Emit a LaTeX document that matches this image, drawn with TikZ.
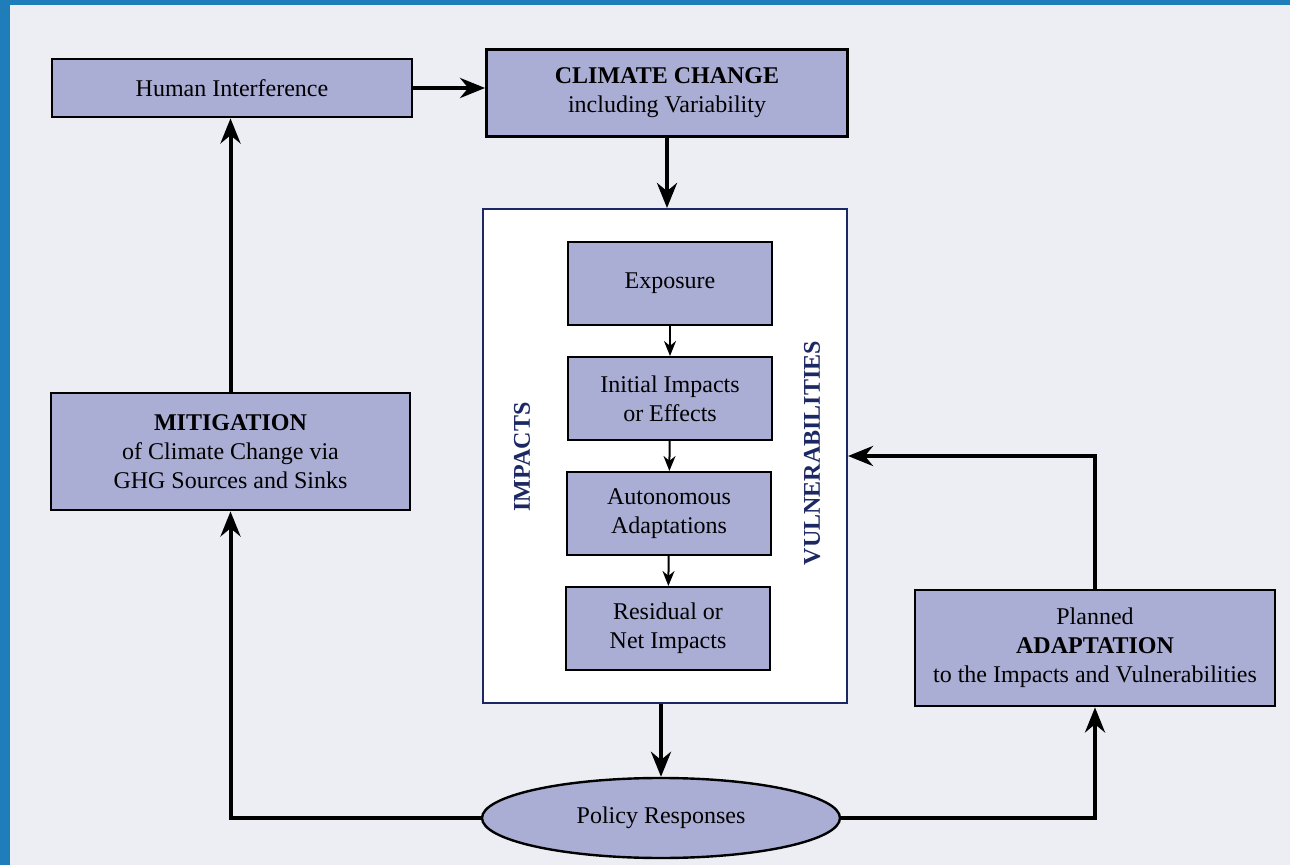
\documentclass[tikz,border=0pt]{standalone}
\usepackage{fontspec}
\setmainfont{Liberation Serif}
\usepackage{tikz}
\usetikzlibrary{shapes,arrows.meta}
\usetikzlibrary{positioning}
\usetikzlibrary{shapes.geometric}

\definecolor{boxfill}{RGB}{170,173,212}
\definecolor{pagegrey}{RGB}{236,238,243}
\definecolor{frameblue}{RGB}{31,125,186}
\definecolor{navy}{RGB}{28,40,100}

\begin{document}
\begin{tikzpicture}[x=0.5pt,y=-0.5pt]
\tikzstyle{box}=[draw=black,line width=1.4pt,fill=boxfill,align=center,inner sep=0pt,font=\fontsize{12}{14.5}\selectfont];
\tikzstyle{stackbox}=[box,line width=1pt,minimum width=102pt,minimum height=41.5pt];
\tikzstyle{bigarrow}=[line width=2pt,draw=black,-{Stealth[length=12.5pt,width=10pt]}];
\tikzstyle{smallarrow}=[line width=1pt,draw=black,-{Stealth[length=7.5pt,width=6pt]}];
\tikzstyle{sidelabel}=[rotate=90,text=navy,font=\fontsize{12}{14}\selectfont\bfseries];

% page and frame
\useasboundingbox (0,0) rectangle (1290,865);
\fill[pagegrey] (0,0) rectangle (1290,865);
\fill[frameblue] (0,0) rectangle (10,865);
\fill[frameblue] (0,0) rectangle (1290,5);

\node[box,minimum width=180pt,minimum height=29pt] (hum) at (232,88) {Human Interference};
\node[box,minimum width=180.5pt,minimum height=43.5pt] (clim) at (667,93) {\textbf{CLIMATE CHANGE}\\including Variability};

\node[draw=navy,line width=1pt,fill=white,minimum width=182pt,minimum height=247pt] (vuln) at (665,456) {};
\node[sidelabel] (implabel) at (522,457) {IMPACTS};
\node[sidelabel] (vulnlabel) at (812,453) {VULNERABILITIES};

\node[stackbox] (expo) at (670,283.5) {Exposure};
\node[stackbox] (init) at (670,398.5) {Initial Impacts\\or Effects};
\node[stackbox] (auto) at (669,513.5) {Autonomous\\Adaptations};
\node[stackbox] (resid) at (668,628.5) {Residual or\\Net Impacts};

\node[box,minimum width=179.5pt,minimum height=58.5pt] (mitig) at (230.5,451.5) {\textbf{MITIGATION}\\of Climate Change via\\GHG Sources and Sinks};
\node[box,minimum width=180pt,minimum height=58pt] (adapt) at (1095,648) {Planned\\\textbf{ADAPTATION}\\to the Impacts and Vulnerabilities};

\node[ellipse,draw=black,line width=1.2pt,fill=boxfill,minimum width=179pt,minimum height=40pt,font=\fontsize{12}{14}\selectfont] (policy) at (661,818) {Policy Responses};

\draw[bigarrow] (hum.east) -- (hum.east -| clim.west);
\draw[bigarrow] (clim.south) -- (clim.south |- vuln.north);

\draw[smallarrow] (expo) -- (init);
\draw[smallarrow] (init) -- (auto);
\draw[smallarrow] (auto) -- (resid);

\draw[bigarrow] (policy.north |- vuln.south) -- (policy.north);
\draw[bigarrow] (policy.west) -| (mitig.south);
\draw[bigarrow] (mitig.north) -- (mitig.north |- hum.south);
\draw[bigarrow] (policy.east) -| (adapt.south);
\draw[bigarrow] (adapt.north) |- (vuln.east);

\end{tikzpicture}
\end{document}
